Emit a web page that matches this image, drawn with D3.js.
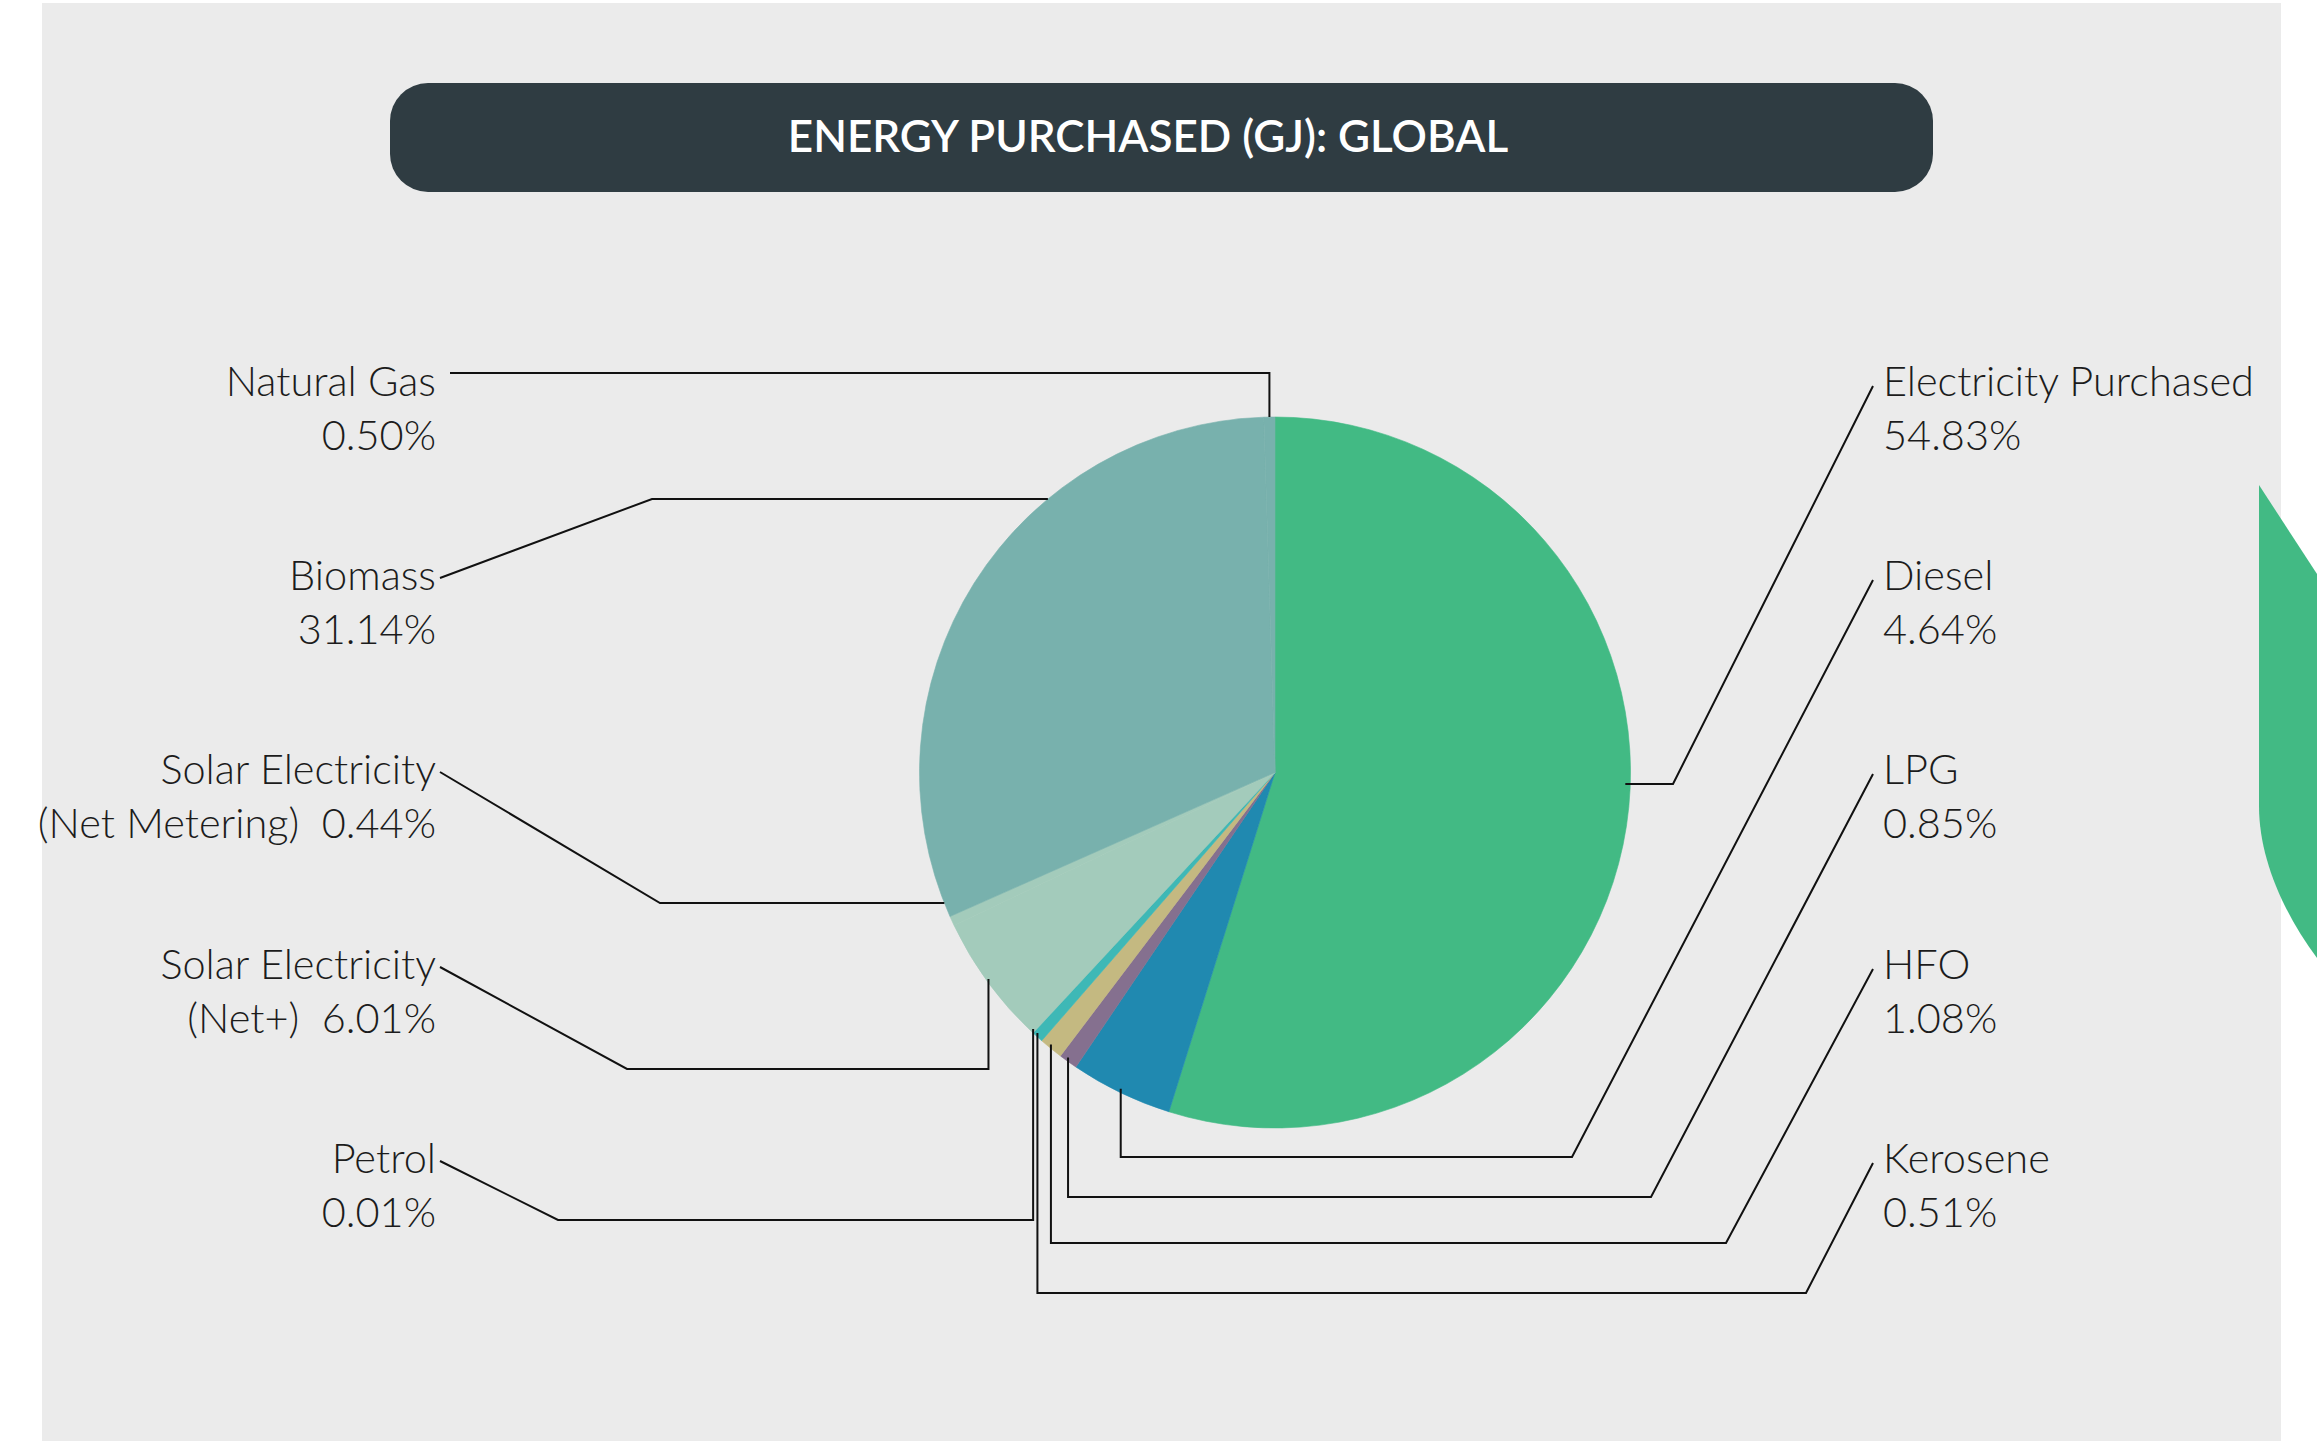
<!DOCTYPE html>
<html>
<head>
<meta charset="utf-8">
<script src="https://cdn.jsdelivr.net/npm/d3@7"></script>
<style>
  body { margin: 0; background: #fff; }
  svg { display: block; }
  text { font-family: Lato, "Open Sans", "Noto Sans", sans-serif; }
  .lbl { font-weight: 300; font-size: 41.5px; fill: #1c1c1c; white-space: pre; }
</style>
</head>
<body>
<div id="chart"></div>
<script>
// ---- data ----
var categories = ["Electricity Purchased", "Diesel", "LPG", "HFO", "Kerosene", "Petrol",
                  "Solar Electricity (Net+)", "Solar Electricity (Net Metering)", "Biomass", "Natural Gas"];
var shares = [54.83, 4.64, 0.85, 1.08, 0.51, 0.01, 6.01, 0.44, 31.14, 0.50];
var labelHead = ["Electricity Purchased", "Diesel", "LPG", "HFO", "Kerosene", "Petrol",
                 "Solar Electricity", "Solar Electricity", "Biomass", "Natural Gas"];
var labelSub = ["", "", "", "", "", "", "(Net+)  ", "(Net Metering)  ", "", ""];
var sliceColors = ["#42ba84", "#2089b0", "#85708f", "#c4b981", "#3eb8b6", "#3eb8b6",
                   "#a3cbbb", "#a3cbbb", "#78b1ad", "#78b1ad"];
var title = "ENERGY PURCHASED (GJ): GLOBAL";

// ---- layout ----
var W = 2317, H = 1441;
var cx = 1275, cy = 772.5, R = 355.5;
var rowBase = [396, 590, 784, 979, 1173], lineGap = 54;
var rightTextX = 1883, leftTextX = 436;

// leader routes: elbow point for each category (annotation layout only)
var leaders = [
  {i: 0, side: "right", row: 0, ex: 1673, ey: 784, attach: "h"},
  {i: 1, side: "right", row: 1, ex: 1572, ey: 1157, attach: "v"},
  {i: 2, side: "right", row: 2, ex: 1651, ey: 1197, attach: "v"},
  {i: 3, side: "right", row: 3, ex: 1726, ey: 1243, attach: "v"},
  {i: 4, side: "right", row: 4, ex: 1806, ey: 1293, attach: "v"},
  {i: 5, side: "left", row: 4, ex: 558, ey: 1220, attach: "v"},
  {i: 6, side: "left", row: 3, ex: 627, ey: 1069, attach: "v"},
  {i: 7, side: "left", row: 2, ex: 660, ey: 903, attach: "h"},
  {i: 8, side: "left", row: 1, ex: 652, ey: 499, attach: "h"},
  {i: 9, side: "left", row: 0, ex: null, ey: 373, attach: "v"}
];

var fmt = d3.format(".2f");

var svg = d3.select("#chart").append("svg")
    .attr("width", W)
    .attr("height", H);

// panel
svg.append("rect")
    .attr("x", 42).attr("y", 3)
    .attr("width", 2239).attr("height", H)
    .attr("fill", "#ebebeb");

// decorative leaf at the right edge
svg.append("path")
    .attr("d", "M2259,485 L2330,594 L2330,975 L2317,958 C2285,915 2259,860 2259,806 Z")
    .attr("fill", "#42ba84");

// title bar
svg.append("rect")
    .attr("x", 390).attr("y", 83)
    .attr("width", 1543).attr("height", 109)
    .attr("rx", 38).attr("ry", 38)
    .attr("fill", "#2f3c42");

svg.append("text")
    .attr("x", 1148).attr("y", 152)
    .attr("text-anchor", "middle")
    .attr("fill", "#fff")
    .style("font-size", "44px")
    .style("font-weight", 600)
    .text(title);

////////// pie //////////

var pie = d3.pie().sort(null).value(function (d) { return d; });
var arcs = pie(shares);

var arc = d3.arc().innerRadius(0).outerRadius(R);
var edge = d3.arc().innerRadius(R).outerRadius(R);

var g = svg.append("g").attr("transform", "translate(" + cx + "," + cy + ")");

g.selectAll("path.slice")
    .data(arcs)
    .enter()
    .append("path")
    .attr("class", "slice")
    .attr("d", arc)
    .attr("fill", function (d, i) { return sliceColors[i]; })
    .attr("stroke", function (d, i) { return sliceColors[i]; })
    .attr("stroke-width", 0.6);

////////// labels + leaders //////////

function routeFor(l) {
    var y0 = rowBase[l.row];
    var pts = [];
    if (l.side === "right") {
        pts.push([rightTextX - 10, y0 - 10]);
        pts.push([l.ex, l.ey]);
    } else if (l.ex === null) {
        pts.push([leftTextX + 14, l.ey]);
    } else {
        pts.push([leftTextX + 4, y0 - 12]);
        pts.push([l.ex, l.ey]);
    }
    if (l.attach === "h") {
        var dy = l.ey - cy;
        var dx = Math.sqrt(R * R - dy * dy);
        var ax = l.side === "right" ? cx + dx - 5 : cx - dx;
        pts.push([ax, l.ey]);
    } else {
        var c = edge.centroid(arcs[l.i]);
        var ax2 = cx + c[0];
        var ddx = c[0];
        var ddy = Math.sqrt(R * R - ddx * ddx);
        var ay = l.ey > cy ? cy + ddy - 4 : cy - ddy;
        pts.push([ax2, l.ey]);
        pts.push([ax2, ay]);
    }
    return pts;
}

var line = d3.line();

svg.append("g")
    .selectAll("path")
    .data(leaders)
    .enter()
    .append("path")
    .attr("d", function (l) { return line(routeFor(l)); })
    .attr("fill", "none")
    .attr("stroke", "#111")
    .attr("stroke-width", 2);

var labels = svg.append("g")
    .selectAll("text")
    .data(leaders)
    .enter()
    .append("text")
    .attr("class", "lbl")
    .attr("text-anchor", function (l) { return l.side === "right" ? "start" : "end"; })
    .attr("x", function (l) { return l.side === "right" ? rightTextX : leftTextX; })
    .attr("y", function (l) { return rowBase[l.row]; });

labels.append("tspan")
    .text(function (l) { return labelHead[l.i]; });

labels.append("tspan")
    .attr("x", function (l) { return l.side === "right" ? rightTextX : leftTextX; })
    .attr("dy", lineGap)
    .text(function (l) { return labelSub[l.i] + fmt(shares[l.i]) + "%"; });
</script>
</body>
</html>
